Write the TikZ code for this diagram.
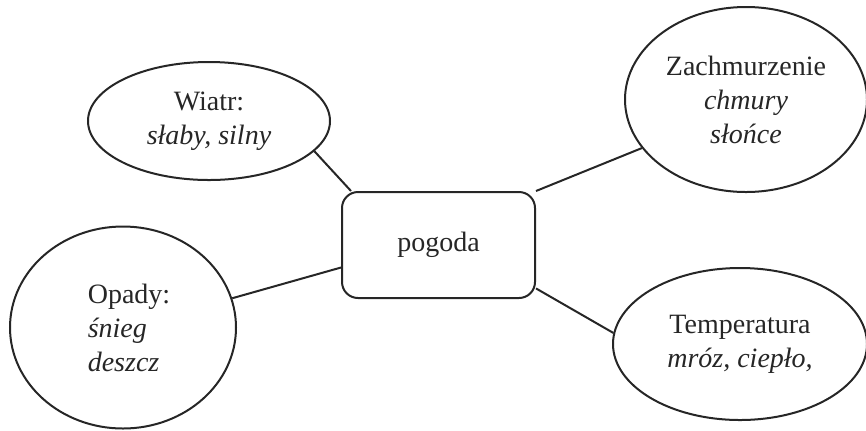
\documentclass[tikz,border=0pt]{standalone}
\usepackage{fontspec}
\setmainfont{Liberation Serif}
\usetikzlibrary{shapes.geometric}

\begin{document}
\begin{tikzpicture}[x=0.5pt,y=-0.5pt,line width=1pt,
  every node/.style={font=\fontsize{14}{17}\selectfont,text=black!85},
  topic/.style={shape=ellipse,draw=black!85,inner sep=0pt}]
  \useasboundingbox (0,0) rectangle (866,430);

  \node[shape=rectangle,rounded corners=8pt,draw=black!85,minimum width=96.5pt,minimum height=53pt] (pogoda) at (438.5,245) {pogoda};
  \node[topic,minimum width=121pt,minimum height=59pt,align=center] (wiatr) at (209,121) {Wiatr:\\ \textit{słaby, silny}};
  \node[topic,minimum width=121pt,minimum height=92.5pt,align=center] (zachmurzenie) at (746,99.5) {Zachmurzenie\\ \textit{chmury}\\ \textit{słońce}};
  \node[topic,minimum width=113pt,minimum height=101pt,align=left] (opady) at (123,327.5) {\hspace*{6pt}Opady:\\ \hspace*{6pt}\textit{śnieg}\\ \hspace*{6pt}\textit{deszcz}};
  \node[topic,minimum width=127pt,minimum height=76pt,align=center] (temperatura) at (740,344) {Temperatura\\ \textit{mróz, ciepło,}};

  \draw[black!85] (wiatr.-16) -- ([xshift=5pt]pogoda.north west);
  \draw[black!85] (zachmurzenie.205) -- (pogoda.north east);
  \draw[black!85] (opady.15) -- (pogoda.193);
  \draw[black!85] (temperatura.175) -- (pogoda.-24);
\end{tikzpicture}
\end{document}
